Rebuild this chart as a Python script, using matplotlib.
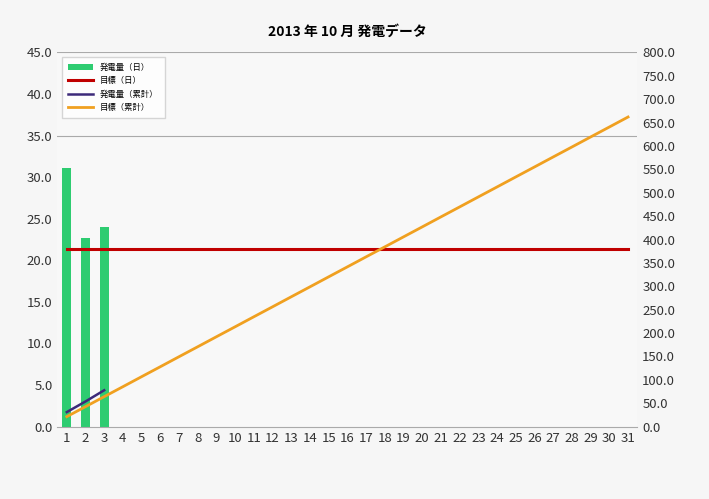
import numpy as np
import matplotlib.pyplot as plt

plt.rcParams['font.family'] = ['Noto Sans CJK JP', 'DejaVu Sans']

days = list(range(1, 32))
gen_days = [1, 2, 3]
gen_daily = [31.1, 22.7, 24.0]
gen_cum = [31.1, 53.8, 77.8]
target_daily = [21.35] * 31
target_cum = [21.4, 42.7, 64.1, 85.4, 106.8, 128.1, 149.5, 170.8, 192.2, 213.5,
              234.9, 256.2, 277.6, 298.9, 320.3, 341.6, 363.0, 384.3, 405.7, 427.0,
              448.4, 469.7, 491.1, 512.4, 533.8, 555.1, 576.5, 597.8, 619.2, 640.5, 661.9]

fig = plt.figure(figsize=(7.09, 4.99), dpi=100)
fig.patch.set_facecolor('#f6f6f6')
ax = fig.add_axes([0.081, 0.145, 0.818, 0.75])
ax.set_facecolor('#f8f8f8')
ax2 = ax.twinx()

b = ax.bar(gen_days, gen_daily, width=0.5, color='#2ecc71', label='発電量（日）')
l1, = ax.plot(days, target_daily, color='#c00000', lw=2.2, label='目標（日）')
l2, = ax2.plot(gen_days, gen_cum, color='#3c2a7a', lw=1.8, label='発電量（累計）')
l3, = ax2.plot(days, target_cum, color='#f0a020', lw=2, label='目標（累計）')

ax.set_xlim(0.5, 31.5)
ax.set_ylim(0, 45)
ax2.set_ylim(0, 800)
ax.set_yticks(np.arange(0, 46, 5))
ax.set_yticklabels([f'{v:.1f}' for v in np.arange(0, 46, 5)])
ax2.set_yticks(np.arange(0, 801, 50))
ax2.set_yticklabels([f'{v:.1f}' for v in np.arange(0, 801, 50)])
ax.set_xticks(days)
for a in (ax, ax2):
    a.tick_params(labelsize=9.5, length=0, colors='#333333')
    for s in a.spines.values():
        s.set_visible(False)
ax.axhline(35, color='#aaaaaa', lw=0.8)
ax.axhline(45, color='#aaaaaa', lw=0.8)
ax.spines['bottom'].set_visible(True)
ax.spines['bottom'].set_color('#aaaaaa')

leg = ax.legend([b, l1, l2, l3], ['発電量（日）', '目標（日）', '発電量（累計）', '目標（累計）'],
                loc='upper left', fontsize=6, frameon=True, fancybox=False,
                edgecolor='#cccccc', borderpad=0.8, handlelength=3)
ax.set_title('2013 年 10 月 発電データ', fontsize=10, fontweight='bold', pad=12)

fig.savefig('out.png')
